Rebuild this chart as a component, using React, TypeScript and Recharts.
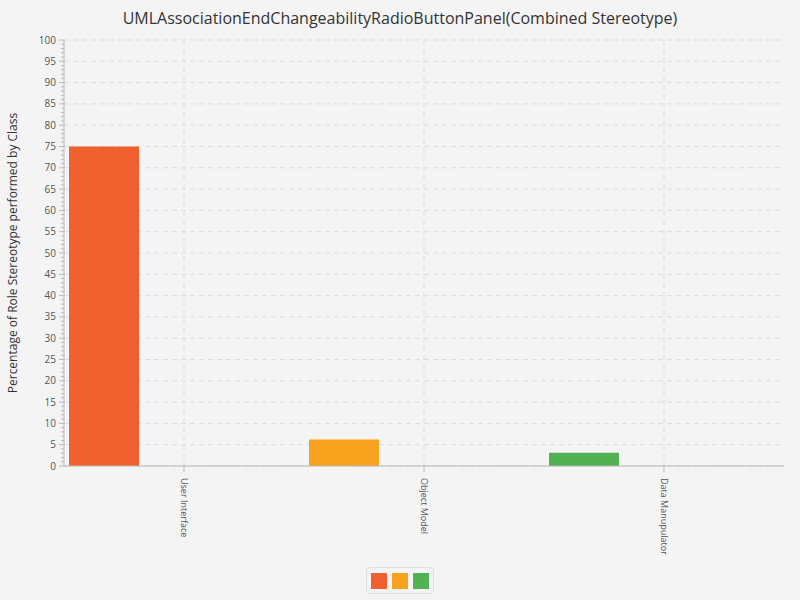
import React from "react";
import { BarChart, Bar, XAxis, YAxis, CartesianGrid, Cell } from "recharts";

const categories = ["User Interface", "Object Model", "Data Manupulator"];
const shares = [75, 6.25, 3.1];
const colors = ["#f0602e", "#f8a21d", "#52b152"];
const yTicks = Array.from({ length: 101 }, (_, i) => i);
const majorTicks = yTicks.filter((t) => t % 5 === 0);

const data = categories.map((name, i) => ({ name, share: shares[i], b: 0, c: 0 }));

const YTick = (props: any) => {
  const { x, y, payload } = props;
  const major = payload.value % 5 === 0;
  return (
    <g>
      <line x1={x + 8 - (major ? 5 : 3)} x2={x + 8} y1={y} y2={y} stroke="#b8b8b8" />
      {major && (
        <text x={x} y={y} dy={3.5} textAnchor="end" fontSize={10} fill="#555">
          {payload.value}
        </text>
      )}
    </g>
  );
};

const XTick = (props: any) => {
  const { x, y, payload } = props;
  return (
    <text
      transform={`translate(${x - 3},${y + 4}) rotate(90)`}
      fontSize={9}
      fill="#555"
      textAnchor="start"
    >
      {payload.value}
    </text>
  );
};

export default function App() {
  return (
    <div
      style={{
        position: "absolute",
        left: 0,
        top: 0,
        width: 800,
        height: 600,
        background: "#f4f4f4",
        fontFamily: "'Open Sans', sans-serif",
      }}
    >
      <div
        style={{
          position: "absolute",
          top: 7,
          width: 800,
          textAlign: "center",
          fontSize: 16,
          color: "#333",
        }}
      >
        UMLAssociationEndChangeabilityRadioButtonPanel(Combined Stereotype)
      </div>
      <BarChart
        width={800}
        height={600}
        data={data}
        margin={{ top: 40, left: 24, right: 16, bottom: 54 }}
        barGap={10}
        barSize={70}
      >
        <CartesianGrid
          stroke="#dcdcdc"
          strokeDasharray="5 4"
          horizontalValues={majorTicks}
          verticalValues={categories}
        />
        <XAxis
          dataKey="name"
          height={80}
          stroke="#b8b8b8"
          tickSize={6}
          tick={<XTick />}
        />
        <YAxis
          width={40}
          domain={[0, 100]}
          ticks={yTicks}
          interval={0}
          tickLine={false}
          stroke="#b8b8b8"
          tick={<YTick />}
          label={{
            value: "Percentage of Role Stereotype performed by Class",
            angle: -90,
            position: "insideLeft",
            dx: -16,
            dy: 0,
            fontSize: 12,
            fill: "#333",
            style: { textAnchor: "middle" },
          }}
        />
        <Bar dataKey="share" isAnimationActive={false}>
          {data.map((d, i) => (
            <Cell key={d.name} fill={colors[i]} />
          ))}
        </Bar>
        <Bar dataKey="b" fill={colors[1]} isAnimationActive={false} />
        <Bar dataKey="c" fill={colors[2]} isAnimationActive={false} />
      </BarChart>
      <div
        style={{
          position: "absolute",
          left: 366,
          top: 567,
          width: 66,
          height: 25,
          border: "1px solid #dedede",
          borderRadius: 4,
          display: "flex",
          alignItems: "center",
          justifyContent: "center",
          gap: 5,
        }}
      >
        {colors.map((c) => (
          <div key={c} style={{ width: 16, height: 16, background: c }} />
        ))}
      </div>
    </div>
  );
}
